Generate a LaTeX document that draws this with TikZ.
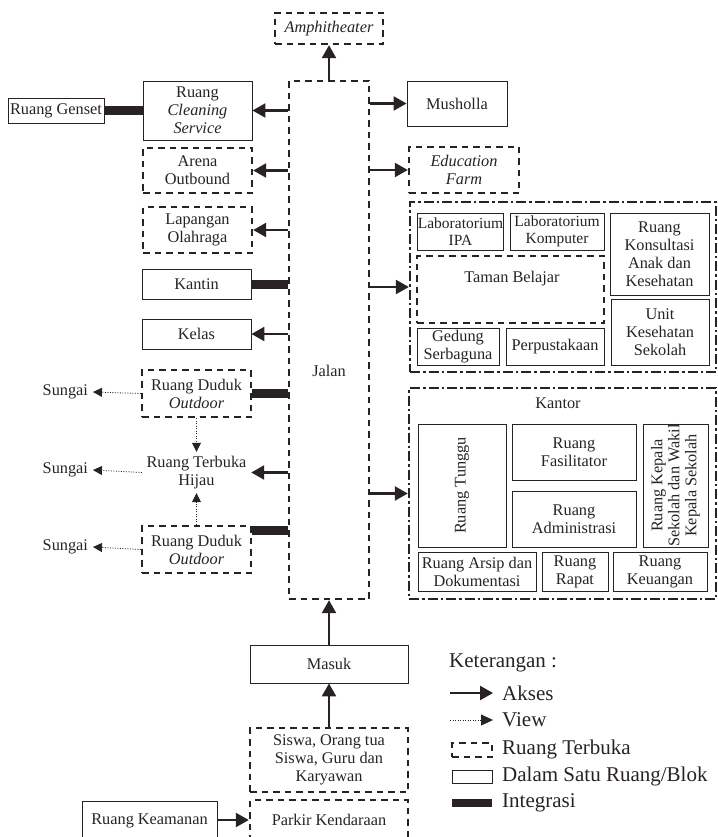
\documentclass[tikz,border=0pt]{standalone}
\usepackage{fontspec}
\setmainfont{Liberation Serif}
\usetikzlibrary{arrows.meta,calc}
\definecolor{ink}{RGB}{40,34,34}
\newcommand\bx[7]{\node[#6, minimum width={#3pt-#1pt}, minimum height={#4pt-#2pt}] (#5) at ({(#1+#3)/2},{(#2+#4)/2}) {#7};}
\begin{document}
\begin{tikzpicture}[x=1pt,y=-1pt,
  every node/.style={text=ink, font=\fontsize{16.3}{18}\selectfont, inner sep=0pt, align=center},
  solidbox/.style={draw=ink, line width=0.9pt},
  dashbox/.style={draw=ink, line width=2.4pt, dash pattern=on 6.5pt off 5pt},
  dashdotbox/.style={draw=ink, line width=2.4pt, dash pattern=on 10pt off 3pt on 2.5pt off 3pt},
  plainbox/.style={},
  akses/.style={draw=ink, line width=2.4pt, -{Triangle[length=13pt,width=14pt]}},
  viewarrow/.style={draw=ink, line width=0.8pt, dash pattern=on 1pt off 1.5pt, -{Triangle[length=9pt,width=9pt]}},
  integ/.style={draw=ink, line width=9pt},
  smallfont/.style={font=\fontsize{15.5}{16.5}\selectfont},
  legfont/.style={font=\fontsize{21}{25}\selectfont}
]
\useasboundingbox (0,0) rectangle (717,837);

% central path
\bx{289}{81}{369}{599}{jalan}{dashbox}{}
\node (jalanlbl) at (329,371) {Jalan};
\bx{275}{13}{383}{44}{amph}{dashbox}{\textit{Amphitheater}}

% left column
\bx{143}{81}{252}{140}{clean}{solidbox}{Ruang\\\textit{Cleaning}\\\textit{Service}}
\bx{8}{98}{104}{123}{genset}{solidbox}{Ruang Genset}
\bx{143}{148}{252}{193}{arena}{dashbox}{Arena\\Outbound}
\bx{143}{207}{252}{253}{lap}{dashbox}{Lapangan\\Olahraga}
\bx{142}{269}{251}{299}{kantin}{solidbox}{Kantin}
\bx{142}{319}{251}{349}{kelas}{solidbox}{Kelas}
\bx{142}{370}{251}{417}{dud1}{dashbox}{Ruang Duduk\\\textit{Outdoor}}
\bx{142}{452}{251}{493}{rth}{plainbox}{Ruang Terbuka\\Hijau}
\bx{142}{526}{251}{573}{dud2}{dashbox}{Ruang Duduk\\\textit{Outdoor}}
\node[anchor=east, outer sep=5pt] (s1) at (93,392) {Sungai};
\node[anchor=east, outer sep=5pt] (s2) at (93,470) {Sungai};
\node[anchor=east, outer sep=5pt] (s3) at (93,547) {Sungai};

% right column
\bx{407}{81}{507}{126}{mush}{solidbox}{Musholla}
\bx{409}{147}{519}{193}{edu}{dashbox}{\textit{Education}\\\textit{Farm}}

\bx{410}{202}{716}{372}{blk}{dashdotbox}{}
\bx{418}{213}{503}{250}{labipa}{solidbox,smallfont}{Laboratorium\\IPA}
\bx{510}{213}{604}{250}{labkom}{solidbox,smallfont}{Laboratorium\\Komputer}
\bx{610}{213}{709}{295}{konsul}{solidbox}{Ruang\\Konsultasi\\Anak dan\\Kesehatan}
\bx{417}{256}{604}{323}{taman}{dashbox}{}
\node (tamanlbl) at (512,279) {Taman Belajar};
\bx{417}{328}{499}{365}{gedung}{solidbox}{Gedung\\Serbaguna}
\bx{506}{328}{604}{365}{perpus}{solidbox}{Perpustakaan}
\bx{611}{299}{709}{365}{uks}{solidbox}{Unit\\Kesehatan\\Sekolah}

\bx{409}{388}{716}{599}{kantor}{dashdotbox}{}
\node (kantorlbl) at (558,403) {Kantor};
\bx{418}{424}{506}{547}{tunggu}{solidbox}{}
\node[rotate=90] (tunggulbl) at (tunggu.center) {Ruang Tunggu};
\bx{512}{424}{636}{480}{fasil}{solidbox}{Ruang\\Fasilitator}
\bx{512}{491}{636}{547}{admin}{solidbox}{Ruang\\Administrasi}
\bx{643}{424}{708}{547}{kepala}{solidbox}{}
\node[rotate=90, font=\fontsize{16.3}{17}\selectfont] (kepalalbl) at (kepala.center) {Ruang Kepala\\Sekolah dan Wakil\\Kepala Sekolah};
\bx{418}{552}{536}{591}{arsip}{solidbox}{Ruang Arsip dan\\Dokumentasi}
\bx{542}{552}{608}{591}{rapat}{solidbox}{Ruang\\Rapat}
\bx{613}{552}{707}{591}{keu}{solidbox}{Ruang\\Keuangan}

% bottom
\bx{250}{645}{408}{683}{masuk}{solidbox}{Masuk}
\bx{250}{728}{408}{792}{siswa}{dashbox}{Siswa, Orang tua\\Siswa, Guru dan\\Karyawan}
\bx{250}{800}{408}{840}{parkir}{dashbox}{Parkir Kendaraan}
\bx{82}{801}{217}{840}{keamanan}{solidbox}{Ruang Keamanan}

% access arrows
\draw[akses] (jalan.north) -- (amph.south);
\draw[akses] (jalan.west |- clean.east) -- (clean.east);
\draw[akses] (jalan.west |- arena.east) -- (arena.east);
\draw[akses] (jalan.west |- lap.east) -- (lap.east);
\draw[akses] (jalan.west |- kelas.east) -- (kelas.east);
\draw[akses] (jalan.west |- rth.east) -- (rth.east);
\draw[akses] (jalan.east |- mush.west) -- (mush.west);
\draw[akses] (jalan.east |- edu.west) -- (edu.west);
\draw[akses] (jalan.east |- blk.west) -- (blk.west);
\draw[akses] (jalan.east |- kantor.west) -- (kantor.west);
\draw[akses] (masuk.north) -- (jalan.south);
\draw[akses] (siswa.north) -- (masuk.south);
\draw[akses] (keamanan.east |- parkir.west) -- (parkir.west);

% integration bars
\draw[integ] (genset.east) -- (clean.west |- genset.east);
\draw[integ] (kantin.east) -- (jalan.west |- kantin.east);
\draw[integ] (dud1.east) -- (jalan.west |- dud1.east);
\draw[integ] ([yshift=-6pt]dud2.north east) -- ([yshift=-6pt]jalan.west |- dud2.north east);

% view arrows
\draw[viewarrow] (dud1.west) -- (s1.east);
\draw[viewarrow] (rth.west) -- (s2.east);
\draw[viewarrow] (dud2.west) -- (s3.east);
\draw[viewarrow] (dud1.south) -- (rth.north);
\draw[viewarrow] (dud2.north) -- (rth.south);

% legend
\node[legfont, anchor=west] (ket) at (449,663) {Keterangan :};
\coordinate (la1) at (450,693); \coordinate (la2) at (493,693);
\draw[akses] (la1) -- (la2);
\node[legfont, anchor=west] (lakses) at (502,693) {Akses};
\coordinate (lv1) at (450,720); \coordinate (lv2) at (493,720);
\draw[viewarrow, -{Triangle[length=12pt,width=11pt]}] (lv1) -- (lv2);
\node[legfont, anchor=west] (lview) at (502,720) {View};
\bx{452}{743}{492}{757}{ldash}{dashbox}{}
\node[legfont, anchor=west] (lterbuka) at (502,749) {Ruang Terbuka};
\bx{452}{770}{492}{783}{lsolid}{solidbox}{}
\node[legfont, anchor=west] (lblok) at (502,776) {Dalam Satu Ruang/Blok};
\coordinate (li1) at (452,803); \coordinate (li2) at (492,803);
\draw[integ, line width=8pt] (li1) -- (li2);
\node[legfont, anchor=west] (linteg) at (502,803) {Integrasi};
\end{tikzpicture}
\end{document}
